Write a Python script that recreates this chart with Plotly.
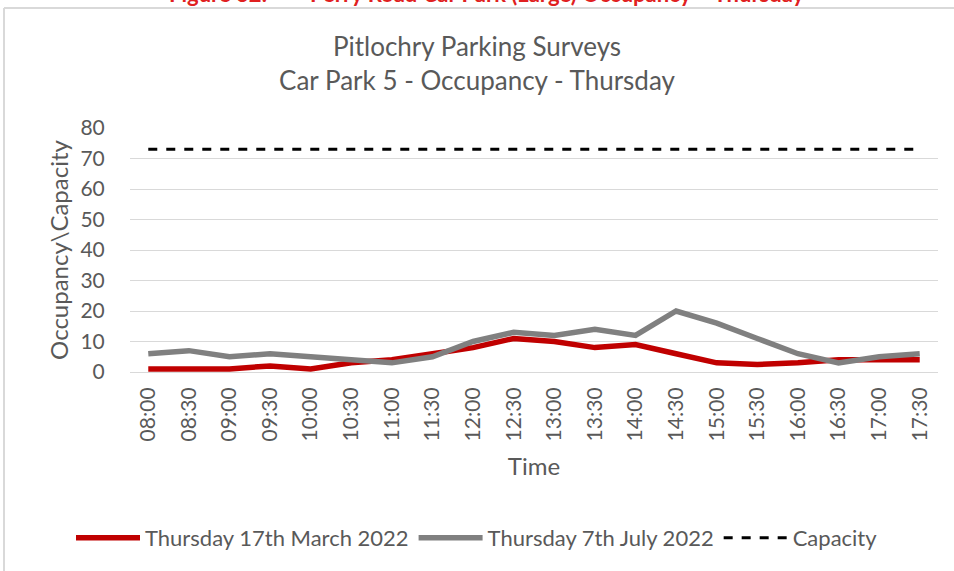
import plotly.graph_objects as go

# Survey times (half-hourly beats)
times = ["08:00", "08:30", "09:00", "09:30", "10:00", "10:30", "11:00", "11:30",
         "12:00", "12:30", "13:00", "13:30", "14:00", "14:30", "15:00", "15:30",
         "16:00", "16:30", "17:00", "17:30"]

# Occupied spaces per beat
march_2022 = [1, 1, 1, 2, 1, 3, 4, 6, 8, 11, 10, 8, 9, 6, 3, 2.5, 3, 4, 4, 4]
july_2022 = [6, 7, 5, 6, 5, 4, 3, 5, 10, 13, 12, 14, 12, 20, 16, 11, 6, 3, 5, 6]

# Car park capacity
capacity_value = 73
capacity = [capacity_value] * len(times)

y_ticks = [0, 10, 20, 30, 40, 50, 60, 70, 80]

FONT = "Lato, Open Sans, sans-serif"
TEXT = "#595959"

fig = go.Figure()
fig.add_trace(go.Scatter(x=times, y=march_2022, mode="lines",
                         name="Thursday 17th March 2022",
                         line=dict(color="#C00000", width=5.5)))
fig.add_trace(go.Scatter(x=times, y=july_2022, mode="lines",
                         name="Thursday 7th July 2022",
                         line=dict(color="#808080", width=5.5)))
fig.add_trace(go.Scatter(x=times, y=capacity, mode="lines",
                         name="Capacity",
                         line=dict(color="#000000", width=3, dash="dash")))

fig.update_layout(
    width=954, height=571,
    margin=dict(l=130, r=16, t=128, b=199, autoexpand=False),
    paper_bgcolor="white", plot_bgcolor="white",
    font=dict(family=FONT, color=TEXT, size=22),
    title=dict(text="Pitlochry Parking Surveys<br>Car Park 5 - Occupancy - Thursday",
               x=0.5, xanchor="center", y=1 - 56 / 571, yanchor="middle",
               font=dict(family=FONT, size=26, color=TEXT)),
    showlegend=True,
    legend=dict(orientation="h", xref="container", x=0.5, xanchor="center",
                yref="container", y=1 - 538 / 571, yanchor="middle",
                font=dict(family=FONT, size=22, color=TEXT),
                itemwidth=64, tracegroupgap=0),
    xaxis=dict(
        type="category",
        automargin=False,
        tickangle=-90,
        tickfont=dict(family=FONT, size=21, color=TEXT),
        showgrid=False, zeroline=False, showline=False,
        ticks="outside", ticklen=6, tickcolor="rgba(0,0,0,0)",
        title=dict(text="Time", font=dict(family=FONT, size=24, color=TEXT), standoff=17),
        range=[-0.45, len(times) - 0.55],
    ),
    yaxis=dict(
        automargin=False,
        range=[0, 80], tickvals=y_ticks,
        tickfont=dict(family=FONT, size=21, color=TEXT),
        showgrid=True, gridcolor="#D9D9D9", gridwidth=1,
        zeroline=True, zerolinecolor="#D9D9D9", zerolinewidth=1,
        ticks="outside", ticklen=20, tickcolor="rgba(0,0,0,0)",
        title=dict(text="Occupancy\\Capacity", font=dict(family=FONT, size=24, color=TEXT),
                   standoff=5),
    ),
)

# Outer chart frame (top and left edges)
fig.add_shape(type="line", xref="paper", yref="paper",
              x0=-126 / 808, x1=1.2, y0=1 + 120 / 244, y1=1 + 120 / 244,
              line=dict(color="#D9D9D9", width=2))
fig.add_shape(type="line", xref="paper", yref="paper",
              x0=-126 / 808, x1=-126 / 808, y0=-1.0, y1=1 + 120 / 244,
              line=dict(color="#D9D9D9", width=2))

# Figure caption running off the top of the page
fig.add_annotation(text="<b>Figure 32:        Perry Road Car Park (Large) Occupancy \u2013 Thursday</b>",
                   xref="paper", yref="paper", x=(487 - 130) / 808, y=1 + 135 / 244,
                   xanchor="center", yanchor="middle", showarrow=False,
                   font=dict(family="Lato, sans-serif", size=22, color="#E02020"))

fig.write_html("out.html")
